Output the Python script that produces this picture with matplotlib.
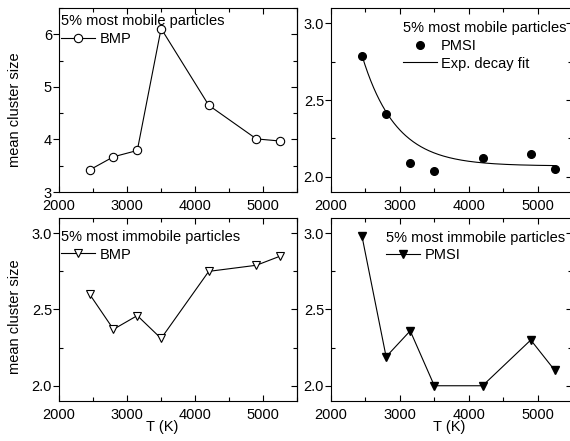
import numpy as np
import matplotlib
matplotlib.use("Agg")
import matplotlib.pyplot as plt
from matplotlib.ticker import MultipleLocator, NullFormatter

plt.rcParams['font.family'] = ['Liberation Sans', 'DejaVu Sans']
plt.rcParams['font.size'] = 10.5

# temperatures (K)
T = [2450, 2800, 3150, 3500, 4200, 4900, 5250]

# mean cluster size, 5% most mobile particles
mobile_bmp = [3.42, 3.67, 3.79, 6.11, 4.65, 4.01, 3.97]
mobile_pmsi = [2.79, 2.41, 2.09, 2.04, 2.12, 2.15, 2.05]

# mean cluster size, 5% most immobile particles
immobile_bmp = [2.60, 2.37, 2.46, 2.31, 2.75, 2.79, 2.85]
immobile_pmsi = [2.98, 2.19, 2.36, 2.00, 2.00, 2.30, 2.10]

# exponential decay fit of mobile PMSI: y0 + A*exp(-(T-T0)/t)
fit_y0 = 2.07
fit_A = 0.72
fit_T0 = 2450
fit_t = 490

fig = plt.figure(figsize=(5.7, 4.41), dpi=100)

ax_tl = fig.add_axes([0.1035, 0.5646, 0.418, 0.4172])
ax_tr = fig.add_axes([0.5807, 0.5646, 0.423, 0.4172])
ax_bl = fig.add_axes([0.1035, 0.0907, 0.418, 0.415])
ax_br = fig.add_axes([0.5807, 0.0907, 0.423, 0.415])


def style(ax, ymin, ymax, ymajor, yminor, yfmt):
    ax.set_xlim(2000, 5500)
    ax.set_ylim(ymin, ymax)
    ax.xaxis.set_major_locator(MultipleLocator(1000))
    ax.xaxis.set_minor_locator(MultipleLocator(500))
    ax.yaxis.set_major_locator(MultipleLocator(ymajor))
    ax.yaxis.set_minor_locator(MultipleLocator(yminor))
    ax.yaxis.set_major_formatter(plt.FormatStrFormatter(yfmt))
    ax.tick_params(which='both', top=True, right=False, direction='in',
                   width=0.8, colors='black')
    ax.tick_params(which='major', length=4)
    ax.tick_params(which='minor', length=3)
    ax.tick_params(axis='y', which='major', direction='out', length=4, pad=1)
    ax.tick_params(axis='x', which='major', pad=5)
    for s in ax.spines.values():
        s.set_linewidth(0.8)
    # inward ticks on the right spine, no labels
    sec = ax.secondary_yaxis('right')
    sec.yaxis.set_major_locator(MultipleLocator(ymajor))
    sec.yaxis.set_minor_locator(MultipleLocator(yminor))
    sec.yaxis.set_major_formatter(NullFormatter())
    sec.tick_params(which='both', direction='in', width=0.8)
    sec.tick_params(which='major', length=4)
    sec.tick_params(which='minor', length=3)
    sec.spines['right'].set_linewidth(0.8)


line_kw = dict(color='black', lw=0.8)

# top left: mobile, BMP
ax_tl.plot(T, mobile_bmp, marker='o', ms=6, mfc='white', mec='black',
           mew=0.8, label='BMP', **line_kw)
style(ax_tl, 3, 6.5, 1, 0.5, '%d')

# top right: mobile, PMSI with fit
ax_tr.plot(T, mobile_pmsi, 'o', ms=5.5, color='black', label='PMSI')
T_fit = np.linspace(T[0], T[-1], 200)
ax_tr.plot(T_fit, fit_y0 + fit_A * np.exp(-(T_fit - fit_T0) / fit_t),
           label='Exp. decay fit', **line_kw)
style(ax_tr, 1.9, 3.1, 0.5, 0.25, '%.1f')

# bottom left: immobile, BMP
ax_bl.plot(T, immobile_bmp, marker='v', ms=5.5, mfc='white', mec='black',
           mew=0.8, label='BMP', **line_kw)
style(ax_bl, 1.9, 3.1, 0.5, 0.25, '%.1f')

# bottom right: immobile, PMSI
ax_br.plot(T, immobile_pmsi, marker='v', ms=5.5, label='PMSI', **line_kw)
style(ax_br, 1.9, 3.1, 0.5, 0.25, '%.1f')

legend_kw = dict(frameon=False, loc='upper left', borderpad=0,
                 borderaxespad=0, handlelength=2.3, handletextpad=0.3,
                 labelspacing=0.25, alignment='left')
ax_tl.legend(title='5% most mobile particles', bbox_to_anchor=(0.01, 0.965), **legend_kw)
ax_tr.legend(title='5% most mobile particles', bbox_to_anchor=(0.30, 0.928), **legend_kw)
ax_bl.legend(title='5% most immobile particles', bbox_to_anchor=(0.01, 0.935), **legend_kw)
ax_br.legend(title='5% most immobile particles', bbox_to_anchor=(0.23, 0.93), **legend_kw)
for ax in (ax_tl, ax_tr, ax_bl, ax_br):
    ax.get_legend().get_title().set_fontsize(10.5)

ax_tl.set_ylabel('mean cluster size')
ax_bl.set_ylabel('mean cluster size')
ax_tl.yaxis.set_label_coords(-0.155, 0.45)
ax_bl.yaxis.set_label_coords(-0.155, 0.46)

ax_bl.set_xlabel('T (K)')
ax_br.set_xlabel('T (K)')
ax_bl.xaxis.set_label_coords(0.433, -0.105)
ax_br.xaxis.set_label_coords(0.49, -0.105)

fig.savefig('out.png', dpi=100)
